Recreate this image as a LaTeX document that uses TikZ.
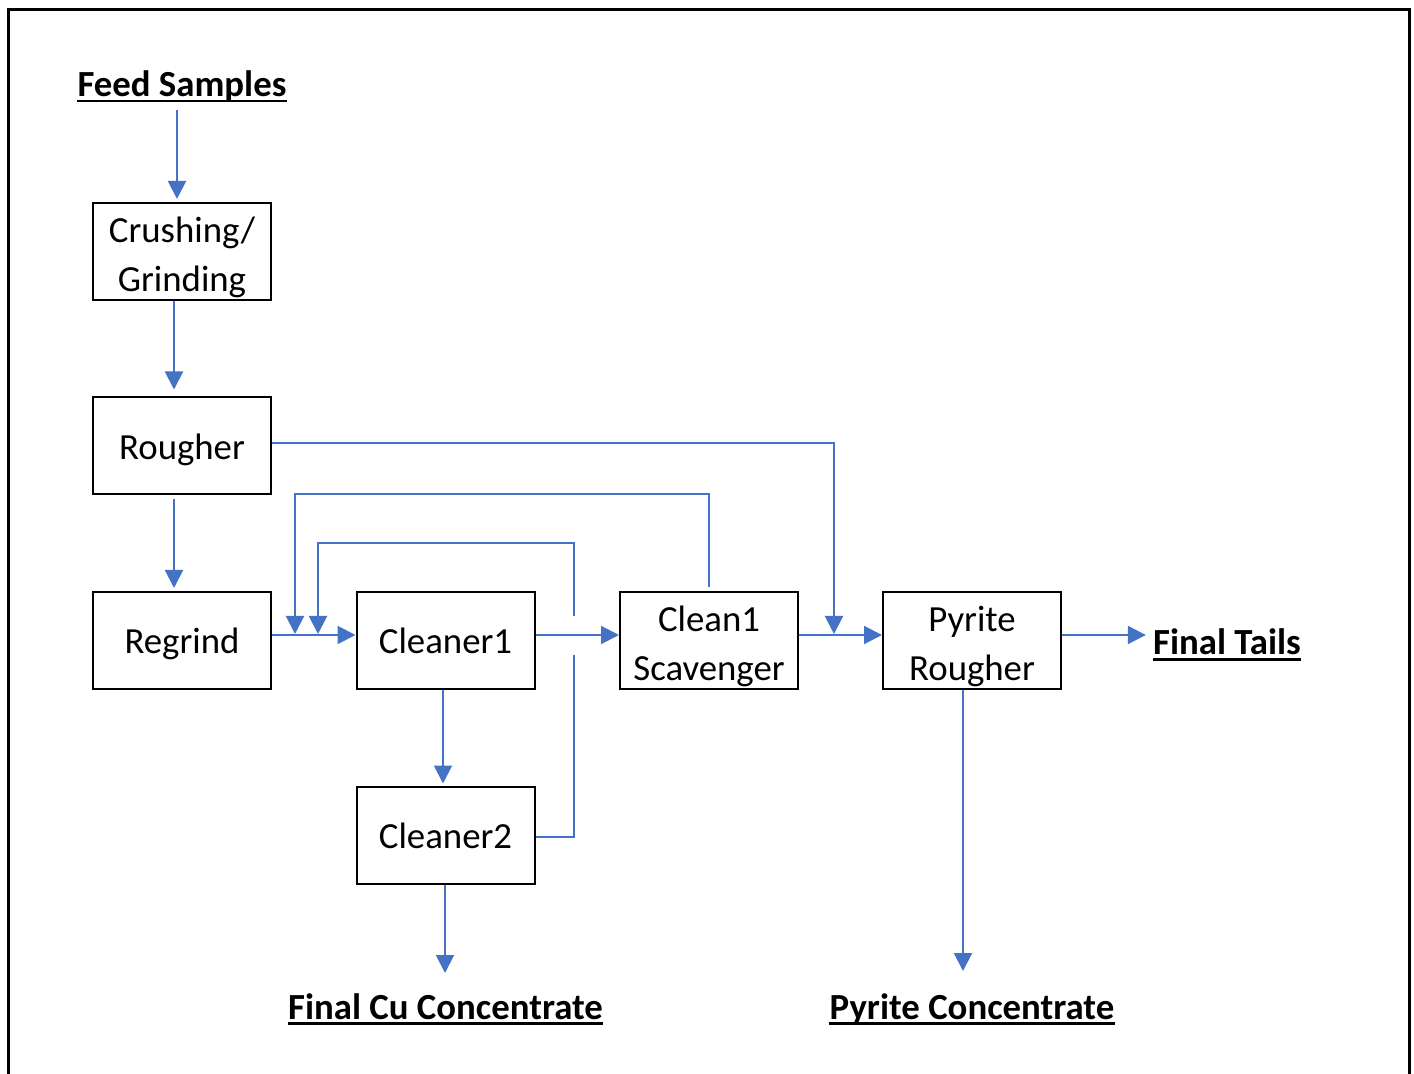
\documentclass[tikz,border=0pt]{standalone}
\usepackage{fontspec}
\setmainfont{Carlito}
\usetikzlibrary{arrows.meta,calc}
\definecolor{flow}{HTML}{4472C4}
\newcommand\onestrut{\rule[-4pt]{0pt}{21.4pt}}
\newcommand\topstrut{\rule{0pt}{19.5pt}}
\newcommand\botstrut{\rule[-4pt]{0pt}{0pt}}
\begin{document}
\begin{tikzpicture}[x=0.5pt,y=-0.5pt,
  box/.style={draw=black,line width=1pt,minimum width=89pt,minimum height=48.5pt,inner sep=0pt,align=center,font=\fontsize{18.4}{24.5}\selectfont},
  lbl/.style={inner sep=0pt,anchor=base,font=\fontsize{18.4}{24.5}\selectfont\bfseries},
  uline/.style={line width=1.4pt},
  arr/.style={draw=flow,line width=1pt,-{Triangle[length=9pt,width=9pt]}},
  ln/.style={draw=flow,line width=1pt}]
\useasboundingbox (0,0) rectangle (1414,1074);
\draw[line width=1.35pt] (8.7,1080) -- (8.7,9.5) -- (1409.5,9.5) -- (1409.5,1080);

% boxes
\node[box] (crush) at (182,251.5) {\topstrut Crushing/\\Grinding\botstrut};
\node[box] (rough) at (182,446) {\onestrut Rougher};
\node[box] (regr) at (182,640.5) {\onestrut Regrind};
\node[box] (cl1) at (445.5,640.5) {\onestrut Cleaner1};
\node[box] (scav) at (709,640.5) {\topstrut Clean1\\Scavenger\botstrut};
\node[box] (pyr) at (972,640.5) {\topstrut Pyrite\\Rougher\botstrut};
\node[box] (cl2) at (445.5,835) {\onestrut Cleaner2};

% labels
\node[lbl] (feed) at (182,96.5) {Feed Samples};
\node[lbl] (tails) at (1227,655) {Final Tails};
\node[lbl] (cu) at (445.5,1019) {Final Cu Concentrate};
\node[lbl] (pc) at (972,1019) {Pyrite Concentrate};
\foreach \n in {feed,tails,cu,pc}
  \draw[uline] ($(\n.base west)+(0,4.5)$) -- ($(\n.base east)+(0,4.5)$);

% helper coordinates
\coordinate (hl) at (0,635);
\coordinate (f0) at (177,110);
\coordinate (l1) at (295,494);
\coordinate (l2) at (318,543);
\coordinate (g1) at (574,655);
\coordinate (g2) at (574,616);
\coordinate (cuin) at (445,973);
\coordinate (pcin) at (963,971);

% main flow
\draw[arr] (f0) -- ($(f0 |- crush.north)+(0,-3)$);
\draw[arr] ($(crush.south)+(-8,0)$) -- ($(rough.north)+(-8,-7)$);
\draw[arr] ($(rough.south)+(-8,4)$) -- ($(regr.north)+(-8,-3)$);
\draw[arr] (regr.east |- hl) -- (cl1.west |- hl);
\draw[arr] (cl1.east |- hl) -- (scav.west |- hl);
\draw[arr] (scav.east |- hl) -- (pyr.west |- hl);
\draw[arr] (pyr.east |- hl) -- ($(tails.west |- hl)+(-7,0)$);
\draw[arr] ($(cl1.south)+(-2.5,0)$) -- ($(cl2.north)+(-2.5,-2)$);
\draw[arr] (cl2.south -| cuin) -- (cuin);
\draw[arr] (pyr.south -| pcin) -- (pcin);

% rougher tails to pyrite rougher
\draw[arr] ($(rough.east)+(0,-3)$) -| ($(pyr.west |- hl)+(-48,-1)$);

% clean1 scavenger concentrate back to cleaner1
\draw[arr] ($(scav.north)+(0,-4)$) |- (l1) -- ($(l1 |- hl)+(0,-1)$);

% cleaner2 tails back to cleaner1 (with line jump)
\draw[ln] ($(cl2.east)+(0,2)$) -| (g1);
\draw[arr] (g2) |- (l2) -- ($(l2 |- hl)+(0,-1)$);
\end{tikzpicture}
\end{document}
